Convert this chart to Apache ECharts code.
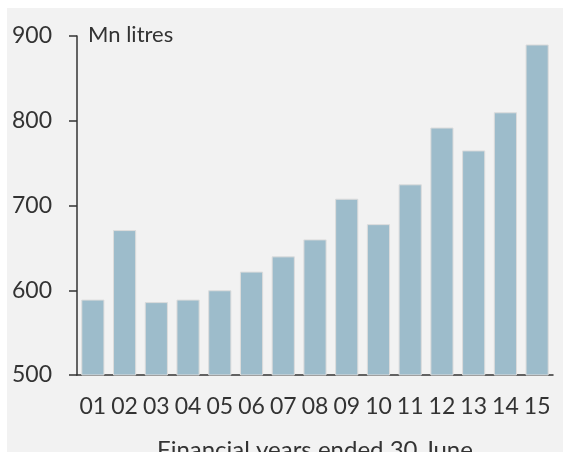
<!DOCTYPE html>
<html><head><meta charset="utf-8">
<script src="https://cdn.jsdelivr.net/npm/echarts@6/dist/echarts.min.js"></script>
<style>html,body{margin:0;padding:0;background:#fff}#c{width:563px;height:452px}</style>
</head><body><div id="c"></div>
<script>
const categories = ['01','02','03','04','05','06','07','08','09','10','11','12','13','14','15'];
const values = [589, 671, 586, 589, 600, 622, 640, 660, 708, 678, 725, 792, 765, 810, 890];
const yTicks = [500, 600, 700, 800, 900];
const unitLabel = 'Mn litres';
const xTitle = 'Financial years ended 30 June';

const chart = echarts.init(document.getElementById('c'), null, {renderer:'canvas'});
const font = 'Lato, "Noto Sans", sans-serif';
chart.setOption({
  animation:false,
  backgroundColor:'#ffffff',
  graphic:[
    {type:'rect', z:-10, shape:{x:7,y:8,width:556,height:444}, style:{fill:'#f2f2f2'}},
    {type:'text', left:88, top:24, style:{text:unitLabel, font:'22px ' + font, fill:'#333'}}
  ],
  grid:{left:77, right:10, top:36, bottom:77, outerBoundsMode:'none', containLabel:false},
  xAxis:{
    type:'category', data:categories,
    name:xTitle, nameLocation:'middle', nameGap:63,
    nameTextStyle:{fontFamily:font, fontSize:24, color:'#333'},
    axisLine:{lineStyle:{color:'#333', width:1.5}},
    axisTick:{length:8, lineStyle:{color:'#333', width:1.5}},
    axisLabel:{interval:0, margin:20, fontFamily:font, fontSize:23, color:'#333'}
  },
  yAxis:{
    type:'value', min:yTicks[0], max:yTicks[yTicks.length-1], interval:100,
    axisLine:{show:true, lineStyle:{color:'#333', width:1.5}},
    axisTick:{show:true, length:8, lineStyle:{color:'#333', width:1.5}},
    splitLine:{show:false},
    axisLabel:{margin:25, fontFamily:font, fontSize:23, color:'#333'}
  },
  series:[{
    type:'bar', data:values, barCategoryGap:'27%',
    itemStyle:{color:'#9dbccb', borderColor:'#dcdcdc', borderWidth:1}
  }]
});
</script></body></html>
